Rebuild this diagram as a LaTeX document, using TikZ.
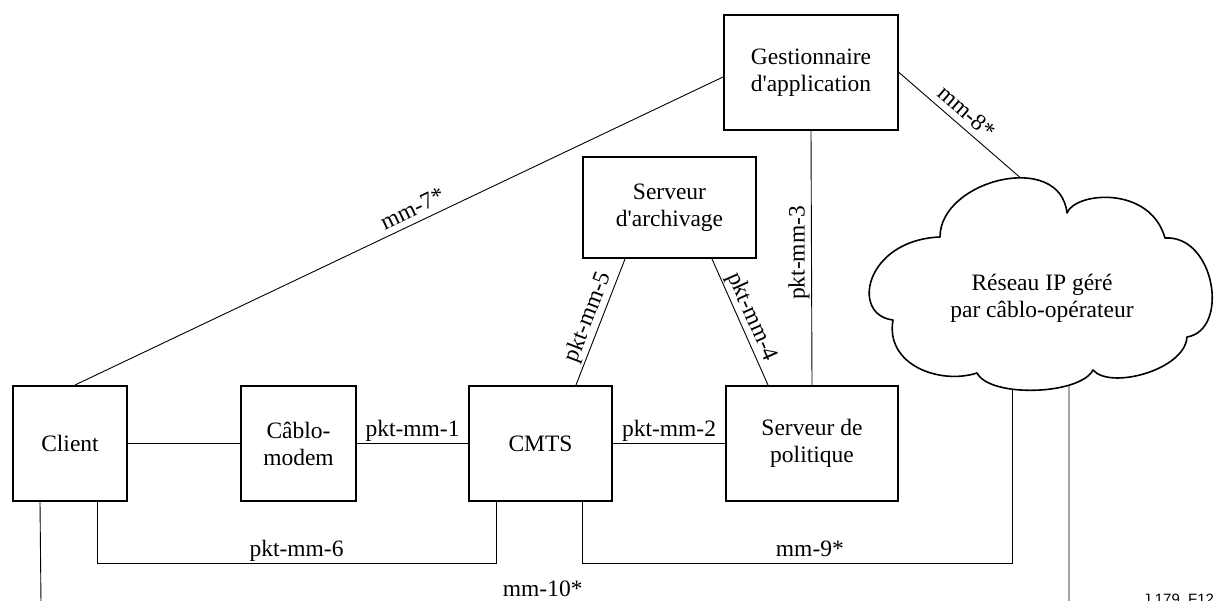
\documentclass[tikz,border=0pt]{standalone}
\usepackage{fontspec}
\setmainfont{Liberation Serif}
\newfontfamily\figsans{Liberation Sans}
\newcommand\fs{\fontsize{23.5}{27}\selectfont}
\newcommand\q{\textquotesingle}
\begin{document}
\begin{tikzpicture}[x=1pt,y=-1pt,
  box/.style={draw,line width=2pt,align=center,inner sep=0pt,font=\fs,minimum height=115pt},
  link/.style={line width=1.5pt},
  wire/.style={line width=0.9pt},
  lab/.style={font=\fs,inner sep=1.5pt,text height=16pt,text depth=5pt},
  cloudline/.style={line width=1.6pt,fill=white,line join=round}]
\useasboundingbox (0,0) rectangle (1216,601);
\clip (0,0) rectangle (1216,601);

% boxes
\node[box,minimum width=114pt] (client) at (70,443.5) {Client};
\node[box,minimum width=115pt] (modem) at (298.5,443.5) {Câblo-\\modem};
\node[box,minimum width=143pt] (cmts) at (540.5,443.5) {CMTS};
\node[box,minimum width=172pt] (pol) at (812,443.5) {Serveur de\\politique};
\node[box,minimum width=174pt] (gest) at (811,72.5) {Gestionnaire\\d\q application};
\node[box,minimum width=173pt,minimum height=101pt] (arch) at (669.5,207.5) {Serveur\\d\q archivage};

% cloud connection points
\coordinate (cloudtop) at (1023,180);
\coordinate (cb1) at (1012,386);
\coordinate (cb2) at (1069,382);
\coordinate (far) at (41,603);

% horizontal links
\draw[link] (client.east) -- (modem.west);
\draw[link] (modem.east) -- node[lab,above] {pkt-mm-1} (cmts.west);
\draw[link] (cmts.east) -- node[lab,above] {pkt-mm-2} (pol.west);

% other links
\draw[wire] ([xshift=5pt]client.north) -- node[lab,sloped,above,pos=0.53] {mm-7*} ([yshift=-4.5pt]gest.west);
\draw[wire] (gest.east) -- node[lab,sloped,above,pos=0.47] {mm-8*} (cloudtop);
\draw[wire] (pol.north) -- node[lab,rotate=90,anchor=south,pos=0.52] {pkt-mm-3} (gest.south);
\draw[wire] ([xshift=108pt]cmts.north west) -- node[lab,sloped,above,pos=0.5] {pkt-mm-5} ([xshift=43pt]arch.south west);
\draw[wire] ([xshift=130pt]arch.south west) -- node[lab,sloped,above,pos=0.5] {pkt-mm-4} ([xshift=43pt]pol.north west);

% bottom links
\draw[wire] ([xshift=85pt]client.south west) -- ++(0,61) -| node[lab,above,pos=0.25] {pkt-mm-6} ([xshift=28pt]cmts.south west);
\draw[wire] ([xshift=114pt]cmts.south west) -- ++(0,61) -| node[lab,above,pos=0.265] {mm-9*} (cb1);
\draw[wire] ([xshift=28pt]client.south west) -- (far) -| node[lab,above,pos=0.244] {mm-10*} (cb2);

% cloud
\draw[cloudline] (940,237) .. controls (940,180) and (1060,150) .. (1067,213)
  .. controls (1075,192) and (1150,185) .. (1165,238)
  .. controls (1215,235) and (1230,330) .. (1187,337)
  .. controls (1185,370) and (1110,390) .. (1093,370)
  .. controls (1080,395) and (990,398) .. (977,373)
  .. controls (940,385) and (885,365) .. (893,320)
  .. controls (850,315) and (865,240) .. (940,237) -- cycle;
\node[font=\fs,align=center] (net) at (1042,298) {Réseau IP géré\\par câblo-opérateur};

% figure reference
\node[font=\figsans\fontsize{15}{17}\selectfont,anchor=base west,inner sep=0pt] (ref) at (1143,604) {J.179\_F12};
\end{tikzpicture}
\end{document}
